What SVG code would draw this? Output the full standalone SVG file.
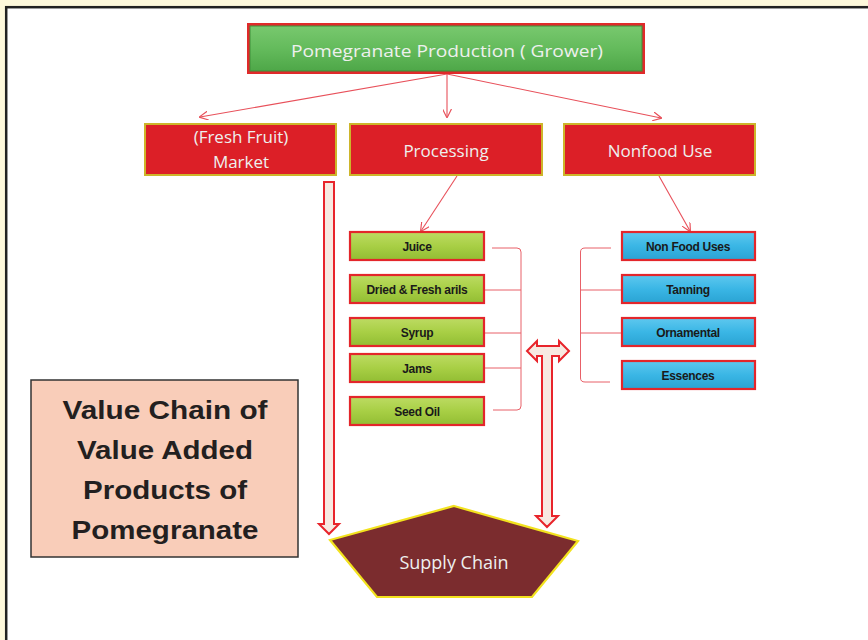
<svg xmlns="http://www.w3.org/2000/svg" width="868" height="640" viewBox="0 0 868 640">
<style>
.lbl{font-family:"Open Sans","Liberation Sans",sans-serif;fill:#eef0ee;text-anchor:middle}
.sm{font-family:"Liberation Sans",Arial,sans-serif;font-weight:bold;font-size:12px;fill:#1a1a1a;text-anchor:middle;letter-spacing:-0.3px}
.big{font-family:"Liberation Sans",Arial,sans-serif;font-weight:bold;font-size:26px;fill:#231f20;text-anchor:middle}
.redbox{fill:#dc1f27;stroke:#cdb52a;stroke-width:2}
.gbox{fill:url(#gg);stroke:#e3262b;stroke-width:2.2}
.bbox{fill:url(#bg);stroke:#e3262b;stroke-width:2.2}
.conn{stroke:#e8505a;stroke-width:1.1;fill:none}
.brk{stroke:#e86068;stroke-width:1;fill:none}
.blk{fill:#f7e9e1;stroke:#e8242b;stroke-width:2;stroke-linejoin:miter}
</style>
<defs>
<linearGradient id="gg" x1="0" y1="0" x2="0" y2="1"><stop offset="0" stop-color="#bddb63"/><stop offset="0.5" stop-color="#a8cf45"/><stop offset="1" stop-color="#92bd33"/></linearGradient>
<linearGradient id="bg" x1="0" y1="0" x2="0" y2="1"><stop offset="0" stop-color="#5ec8ef"/><stop offset="0.5" stop-color="#3ab6e5"/><stop offset="1" stop-color="#2aa3d3"/></linearGradient>
<linearGradient id="tg" x1="0" y1="0" x2="0" y2="1"><stop offset="0" stop-color="#78c86e"/><stop offset="0.5" stop-color="#64bb5c"/><stop offset="1" stop-color="#4ea748"/></linearGradient>
<marker id="ah" viewBox="0 0 10 10" refX="9" refY="5" markerWidth="9" markerHeight="9" orient="auto" markerUnits="userSpaceOnUse"><path d="M0,0 L10,5 L0,10" fill="none" stroke="#e8505a" stroke-width="1.3"/></marker>
</defs>
<rect x="0" y="0" width="868" height="640" fill="#fef9dc"/>
<rect x="6.2" y="7.2" width="880" height="660" fill="#ffffff" stroke="#222" stroke-width="2.5"/>

<g id="connectors">
<line class="conn" x1="447" y1="74" x2="200" y2="117" marker-end="url(#ah)"/>
<line class="conn" x1="447" y1="74" x2="447" y2="117" marker-end="url(#ah)"/>
<line class="conn" x1="447" y1="74" x2="661" y2="118" marker-end="url(#ah)"/>
<line class="conn" x1="457" y1="176" x2="421" y2="231" marker-end="url(#ah)"/>
<line class="conn" x1="659" y1="176" x2="690" y2="231" marker-end="url(#ah)"/>
<path class="brk" d="M492,248 L517,248 Q521,248 521,252 L521,406 Q521,410 517,410 L493,410 M484,290 L521,290 M484,333 L521,333 M484,368 L521,368"/>
<path class="brk" d="M611,248 L585,248 Q580.5,248 580.5,252 L580.5,378 Q580.5,382 585,382 L610,382 M580.5,290 L621,290 M580.5,333 L621,333"/>
</g>

<g id="top">
<rect x="247" y="23" width="398" height="51" fill="#e02a2a"/>
<rect x="250" y="26" width="392" height="45" fill="url(#tg)" stroke="#3f8f3a" stroke-width="1"/>
<text class="lbl" x="447" y="57" font-size="17" textLength="312" lengthAdjust="spacingAndGlyphs">Pomegranate Production ( Grower)</text>
</g>

<g id="market">
<rect class="redbox" x="145" y="124" width="191" height="51"/>
<text class="lbl" x="241" y="143" font-size="17">(Fresh Fruit)</text>
<text class="lbl" x="241" y="168" font-size="17">Market</text>
</g>
<g id="processing">
<rect class="redbox" x="350" y="124" width="192" height="51"/>
<text class="lbl" x="446" y="157" font-size="17">Processing</text>
</g>
<g id="nonfood">
<rect class="redbox" x="564" y="124" width="191" height="51"/>
<text class="lbl" x="660" y="157" font-size="17">Nonfood Use</text>
</g>

<g id="juice"><rect class="gbox" x="350" y="232" width="134" height="28"/><text class="sm" x="417" y="251">Juice</text></g>
<g id="dried"><rect class="gbox" x="350" y="275" width="134" height="28"/><text class="sm" x="417" y="294">Dried &amp; Fresh arils</text></g>
<g id="syrup"><rect class="gbox" x="350" y="318" width="134" height="28"/><text class="sm" x="417" y="337">Syrup</text></g>
<g id="jams"><rect class="gbox" x="350" y="354" width="134" height="28"/><text class="sm" x="417" y="373">Jams</text></g>
<g id="seedoil"><rect class="gbox" x="350" y="397" width="134" height="28"/><text class="sm" x="417" y="416">Seed Oil</text></g>

<g id="nonfooduses"><rect class="bbox" x="622" y="232" width="133" height="28"/><text class="sm" x="688" y="251">Non Food  Uses</text></g>
<g id="tanning"><rect class="bbox" x="622" y="275" width="133" height="28"/><text class="sm" x="688" y="294">Tanning</text></g>
<g id="ornamental"><rect class="bbox" x="622" y="318" width="133" height="28"/><text class="sm" x="688" y="337">Ornamental</text></g>
<g id="essences"><rect class="bbox" x="622" y="361" width="133" height="28"/><text class="sm" x="688" y="380">Essences</text></g>

<g id="supplychain">
<polygon points="454,506 578,541 532,597 377,597 330,540" fill="#7b2c2e" stroke="#f2e21e" stroke-width="2.2" stroke-linejoin="miter"/>
<text class="lbl" x="454" y="569" font-size="18">Supply Chain</text>
</g>

<g id="blockarrows">
<polygon class="blk" points="324,182 334,182 334,524 339,524 329,534 319,524 324,524"/>
<polygon class="blk" points="527,351 537,341 537,346 559,346 559,341 569,351 559,361 559,356 552,356 552,516 558,516 547,527 536,516 542,516 542,356 537,356 537,361"/>
</g>

<g id="valuechain">
<rect x="31" y="380" width="267" height="177" fill="#f9cdb9" stroke="#333" stroke-width="1.5"/>
<text class="big" x="165" y="419" textLength="205" lengthAdjust="spacingAndGlyphs">Value Chain of</text>
<text class="big" x="165" y="459" textLength="176" lengthAdjust="spacingAndGlyphs">Value Added</text>
<text class="big" x="165" y="499" textLength="164" lengthAdjust="spacingAndGlyphs">Products of</text>
<text class="big" x="165" y="539" textLength="187" lengthAdjust="spacingAndGlyphs">Pomegranate</text>
</g>
</svg>
